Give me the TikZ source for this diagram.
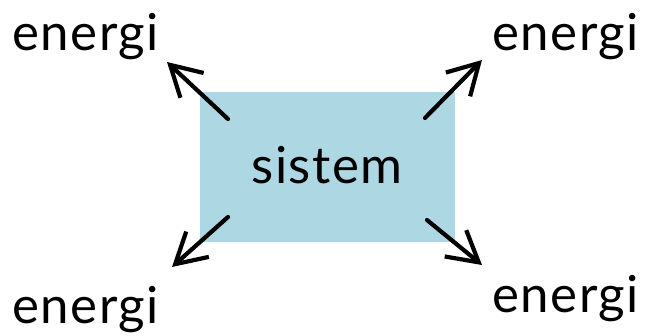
\documentclass[tikz,border=0pt]{standalone}
\usepackage{fontspec}
\setmainfont[LetterSpace=3]{Lato}
\usetikzlibrary{arrows.meta}
\definecolor{sysblue}{RGB}{174,215,228}
\begin{document}
\begin{tikzpicture}[x=1pt,y=-1pt,
  lbl/.style={inner sep=0pt,font=\fontsize{51}{54}\selectfont,text=black},
  flow/.style={line width=4.2pt,-{Straight Barb[length=30pt,width=34pt,line width=4.2pt]},line cap=round,line join=round}]
\useasboundingbox (0,0) rectangle (647,335);
\node[fill=sysblue,minimum width=255pt,minimum height=150pt,inner sep=0pt,anchor=north west] (sys) at (200,92) {};
\node[lbl,anchor=base] (sl) at (327,183) {sistem};
\node[lbl,anchor=base west] (e1) at (12,50) {energi};
\node[lbl,anchor=base west] (e2) at (492,50) {energi};
\node[lbl,anchor=base west] (e3) at (12,323) {energi};
\node[lbl,anchor=base west] (e4) at (492,312) {energi};
\coordinate (a1s) at (228,119); \coordinate (a1e) at (167,62);
\coordinate (a2s) at (425,118); \coordinate (a2e) at (482,60);
\coordinate (a3s) at (228,217); \coordinate (a3e) at (172,267);
\coordinate (a4s) at (427,220); \coordinate (a4e) at (482,265);
\draw[flow] (a1s) -- (a1e);
\draw[flow] (a2s) -- (a2e);
\draw[flow] (a3s) -- (a3e);
\draw[flow] (a4s) -- (a4e);
\end{tikzpicture}
\end{document}
